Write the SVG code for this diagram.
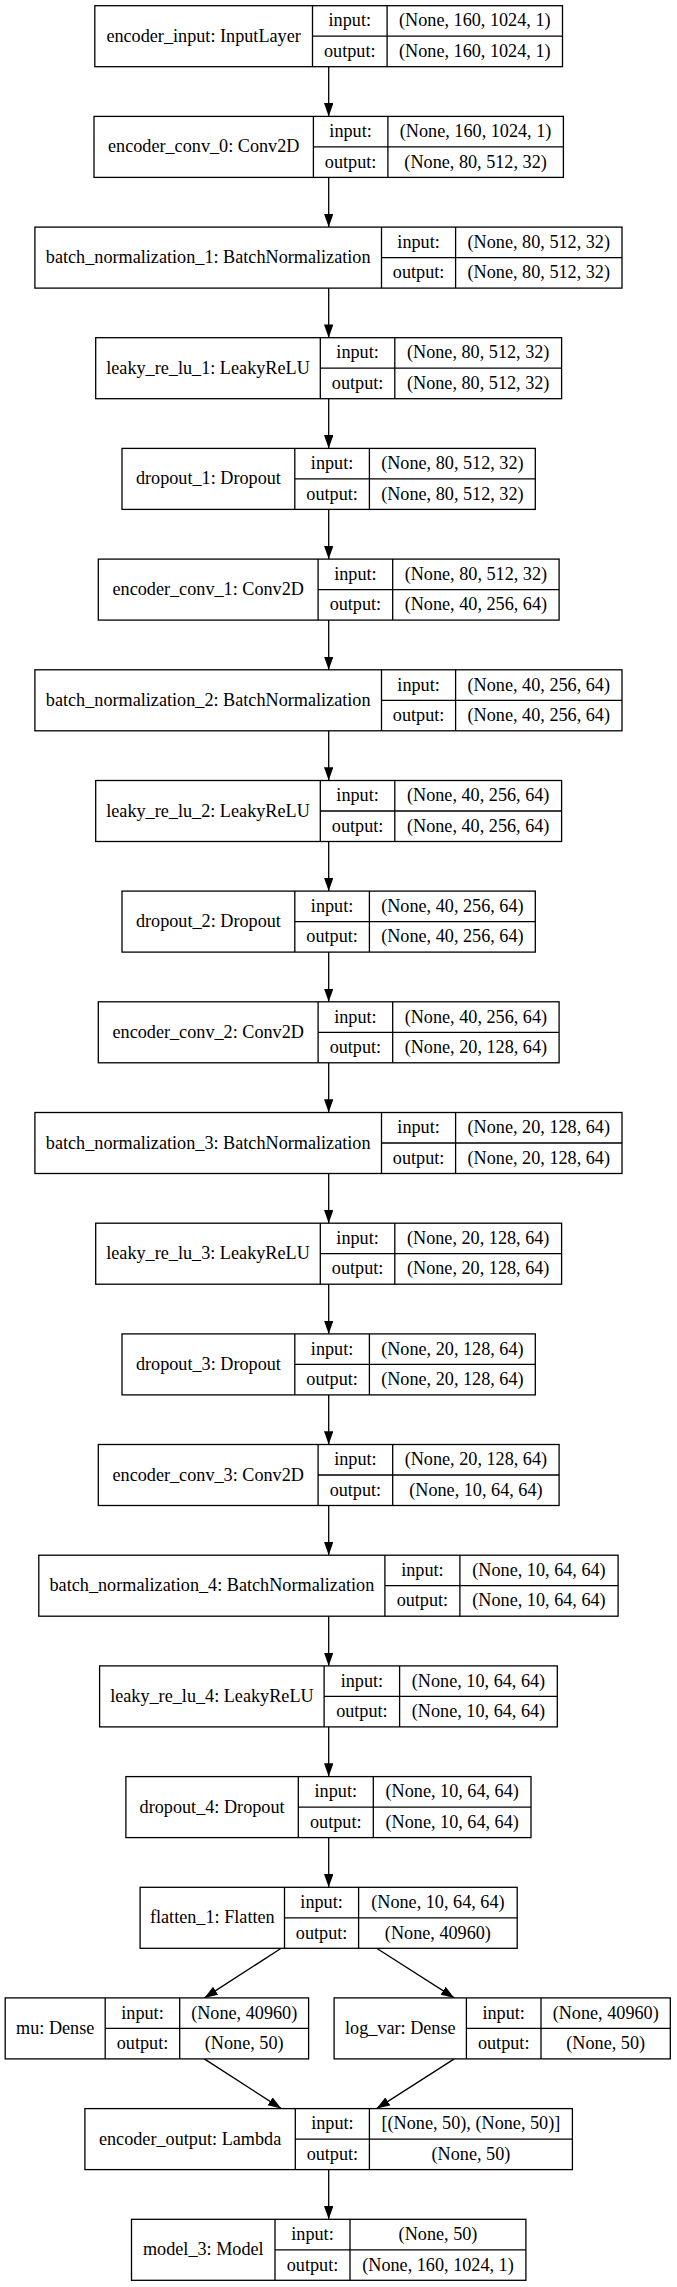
<svg xmlns="http://www.w3.org/2000/svg" width="677" height="2287" viewBox="0 0 677 2287" font-family="'Liberation Serif', 'Times New Roman', serif" font-size="18.2">
<style>
.b{fill:#fff;stroke:#000;stroke-width:1.3}
.l{stroke:#000;stroke-width:1.3;fill:none}
text{font-family:'Liberation Serif','Times New Roman',serif;font-size:18.2px;fill:#000;text-anchor:middle}
.e{stroke:#000;stroke-width:1.3;fill:none;marker-end:url(#ah)}
</style>
<defs>
<marker id="ah" markerUnits="userSpaceOnUse" markerWidth="14" markerHeight="10" refX="13.3" refY="4.7" orient="auto" viewBox="0 0 14 10">
<path d="M0,0 L13.3,4.7 L0,9.4 z" fill="#000"/>
</marker>
</defs>
<rect x="0" y="0" width="677" height="2287" fill="#fff"/>

<g id="edges">
<line class="e" x1="328.7" y1="66.7" x2="328.7" y2="116.4"/>
<line class="e" x1="328.7" y1="177.4" x2="328.7" y2="227.1"/>
<line class="e" x1="328.7" y1="288.1" x2="328.7" y2="337.7"/>
<line class="e" x1="328.7" y1="398.7" x2="328.7" y2="448.4"/>
<line class="e" x1="328.7" y1="509.4" x2="328.7" y2="559.1"/>
<line class="e" x1="328.7" y1="620.1" x2="328.7" y2="669.8"/>
<line class="e" x1="328.7" y1="730.8" x2="328.7" y2="780.5"/>
<line class="e" x1="328.7" y1="841.5" x2="328.7" y2="891.1"/>
<line class="e" x1="328.7" y1="952.1" x2="328.7" y2="1001.8"/>
<line class="e" x1="328.7" y1="1062.8" x2="328.7" y2="1112.5"/>
<line class="e" x1="328.7" y1="1173.5" x2="328.7" y2="1223.2"/>
<line class="e" x1="328.7" y1="1284.2" x2="328.7" y2="1333.9"/>
<line class="e" x1="328.7" y1="1394.9" x2="328.7" y2="1444.5"/>
<line class="e" x1="328.7" y1="1505.5" x2="328.7" y2="1555.2"/>
<line class="e" x1="328.7" y1="1616.2" x2="328.7" y2="1665.9"/>
<line class="e" x1="328.7" y1="1726.9" x2="328.7" y2="1776.6"/>
<line class="e" x1="328.7" y1="1837.6" x2="328.7" y2="1887.3"/>
<line class="e" x1="281.2" y1="1948.3" x2="204.4" y2="1997.9"/>
<line class="e" x1="376.6" y1="1948.3" x2="454.3" y2="1997.9"/>
<line class="e" x1="204.3" y1="2058.9" x2="281.3" y2="2108.6"/>
<line class="e" x1="454.3" y1="2058.9" x2="376.6" y2="2108.6"/>
<line class="e" x1="328.7" y1="2169.6" x2="328.7" y2="2219.3"/>
</g>

<g id="encoder_input" transform="translate(0,5.7)">
<rect class="b" x="94.8" y="0" width="467.7" height="61"/>
<path class="l" d="M312.5,0V61M387.1,0V61M312.5,30.5H562.5"/>
<text x="203.6" y="36">encoder_input: InputLayer</text>
<text x="349.8" y="20.8">input:</text><text x="349.8" y="51.3">output:</text>
<text x="474.8" y="20.8">(None, 160, 1024, 1)</text><text x="474.8" y="51.3">(None, 160, 1024, 1)</text>
</g>

<g id="encoder_conv_0" transform="translate(0,116.4)">
<rect class="b" x="94" y="0" width="469.4" height="61"/>
<path class="l" d="M313.4,0V61M387.9,0V61M313.4,30.5H563.4"/>
<text x="203.7" y="36">encoder_conv_0: Conv2D</text>
<text x="350.6" y="20.8">input:</text><text x="350.6" y="51.3">output:</text>
<text x="475.6" y="20.8">(None, 160, 1024, 1)</text><text x="475.6" y="51.3">(None, 80, 512, 32)</text>
</g>

<g id="batch_normalization_1" transform="translate(0,227.1)">
<rect class="b" x="34.9" y="0" width="587.1" height="61"/>
<path class="l" d="M381.5,0V61M455.6,0V61M381.5,30.5H622"/>
<text x="208.2" y="36">batch_normalization_1: BatchNormalization</text>
<text x="418.6" y="20.8">input:</text><text x="418.6" y="51.3">output:</text>
<text x="538.8" y="20.8">(None, 80, 512, 32)</text><text x="538.8" y="51.3">(None, 80, 512, 32)</text>
</g>

<g id="leaky_re_lu_1" transform="translate(0,337.7)">
<rect class="b" x="95.7" y="0" width="465.9" height="61"/>
<path class="l" d="M320.3,0V61M394.8,0V61M320.3,30.5H561.6"/>
<text x="208" y="36">leaky_re_lu_1: LeakyReLU</text>
<text x="357.6" y="20.8">input:</text><text x="357.6" y="51.3">output:</text>
<text x="478.2" y="20.8">(None, 80, 512, 32)</text><text x="478.2" y="51.3">(None, 80, 512, 32)</text>
</g>

<g id="dropout_1" transform="translate(0,448.4)">
<rect class="b" x="122" y="0" width="413.3" height="61"/>
<path class="l" d="M294.8,0V61M369.4,0V61M294.8,30.5H535.3"/>
<text x="208.4" y="36">dropout_1: Dropout</text>
<text x="332.1" y="20.8">input:</text><text x="332.1" y="51.3">output:</text>
<text x="452.4" y="20.8">(None, 80, 512, 32)</text><text x="452.4" y="51.3">(None, 80, 512, 32)</text>
</g>

<g id="encoder_conv_1" transform="translate(0,559.1)">
<rect class="b" x="98.3" y="0" width="460.8" height="61"/>
<path class="l" d="M318.1,0V61M392.7,0V61M318.1,30.5H559.1"/>
<text x="208.2" y="36">encoder_conv_1: Conv2D</text>
<text x="355.4" y="20.8">input:</text><text x="355.4" y="51.3">output:</text>
<text x="475.9" y="20.8">(None, 80, 512, 32)</text><text x="475.9" y="51.3">(None, 40, 256, 64)</text>
</g>

<g id="batch_normalization_2" transform="translate(0,669.8)">
<rect class="b" x="34.9" y="0" width="587.1" height="61"/>
<path class="l" d="M381.5,0V61M455.6,0V61M381.5,30.5H622"/>
<text x="208.2" y="36">batch_normalization_2: BatchNormalization</text>
<text x="418.6" y="20.8">input:</text><text x="418.6" y="51.3">output:</text>
<text x="538.8" y="20.8">(None, 40, 256, 64)</text><text x="538.8" y="51.3">(None, 40, 256, 64)</text>
</g>

<g id="leaky_re_lu_2" transform="translate(0,780.5)">
<rect class="b" x="95.7" y="0" width="465.9" height="61"/>
<path class="l" d="M320.3,0V61M394.8,0V61M320.3,30.5H561.6"/>
<text x="208" y="36">leaky_re_lu_2: LeakyReLU</text>
<text x="357.6" y="20.8">input:</text><text x="357.6" y="51.3">output:</text>
<text x="478.2" y="20.8">(None, 40, 256, 64)</text><text x="478.2" y="51.3">(None, 40, 256, 64)</text>
</g>

<g id="dropout_2" transform="translate(0,891.1)">
<rect class="b" x="122" y="0" width="413.3" height="61"/>
<path class="l" d="M294.8,0V61M369.4,0V61M294.8,30.5H535.3"/>
<text x="208.4" y="36">dropout_2: Dropout</text>
<text x="332.1" y="20.8">input:</text><text x="332.1" y="51.3">output:</text>
<text x="452.4" y="20.8">(None, 40, 256, 64)</text><text x="452.4" y="51.3">(None, 40, 256, 64)</text>
</g>

<g id="encoder_conv_2" transform="translate(0,1001.8)">
<rect class="b" x="98.3" y="0" width="460.8" height="61"/>
<path class="l" d="M318.1,0V61M392.7,0V61M318.1,30.5H559.1"/>
<text x="208.2" y="36">encoder_conv_2: Conv2D</text>
<text x="355.4" y="20.8">input:</text><text x="355.4" y="51.3">output:</text>
<text x="475.9" y="20.8">(None, 40, 256, 64)</text><text x="475.9" y="51.3">(None, 20, 128, 64)</text>
</g>

<g id="batch_normalization_3" transform="translate(0,1112.5)">
<rect class="b" x="34.9" y="0" width="587.1" height="61"/>
<path class="l" d="M381.5,0V61M455.6,0V61M381.5,30.5H622"/>
<text x="208.2" y="36">batch_normalization_3: BatchNormalization</text>
<text x="418.6" y="20.8">input:</text><text x="418.6" y="51.3">output:</text>
<text x="538.8" y="20.8">(None, 20, 128, 64)</text><text x="538.8" y="51.3">(None, 20, 128, 64)</text>
</g>

<g id="leaky_re_lu_3" transform="translate(0,1223.2)">
<rect class="b" x="95.7" y="0" width="465.9" height="61"/>
<path class="l" d="M320.3,0V61M394.8,0V61M320.3,30.5H561.6"/>
<text x="208" y="36">leaky_re_lu_3: LeakyReLU</text>
<text x="357.6" y="20.8">input:</text><text x="357.6" y="51.3">output:</text>
<text x="478.2" y="20.8">(None, 20, 128, 64)</text><text x="478.2" y="51.3">(None, 20, 128, 64)</text>
</g>

<g id="dropout_3" transform="translate(0,1333.9)">
<rect class="b" x="122" y="0" width="413.3" height="61"/>
<path class="l" d="M294.8,0V61M369.4,0V61M294.8,30.5H535.3"/>
<text x="208.4" y="36">dropout_3: Dropout</text>
<text x="332.1" y="20.8">input:</text><text x="332.1" y="51.3">output:</text>
<text x="452.4" y="20.8">(None, 20, 128, 64)</text><text x="452.4" y="51.3">(None, 20, 128, 64)</text>
</g>

<g id="encoder_conv_3" transform="translate(0,1444.5)">
<rect class="b" x="98.3" y="0" width="460.8" height="61"/>
<path class="l" d="M318.1,0V61M392.7,0V61M318.1,30.5H559.1"/>
<text x="208.2" y="36">encoder_conv_3: Conv2D</text>
<text x="355.4" y="20.8">input:</text><text x="355.4" y="51.3">output:</text>
<text x="475.9" y="20.8">(None, 20, 128, 64)</text><text x="475.9" y="51.3">(None, 10, 64, 64)</text>
</g>

<g id="batch_normalization_4" transform="translate(0,1555.2)">
<rect class="b" x="38.8" y="0" width="579.3" height="61"/>
<path class="l" d="M384.9,0V61M459.9,0V61M384.9,30.5H618.1"/>
<text x="211.9" y="36">batch_normalization_4: BatchNormalization</text>
<text x="422.4" y="20.8">input:</text><text x="422.4" y="51.3">output:</text>
<text x="539" y="20.8">(None, 10, 64, 64)</text><text x="539" y="51.3">(None, 10, 64, 64)</text>
</g>

<g id="leaky_re_lu_4" transform="translate(0,1665.9)">
<rect class="b" x="99.6" y="0" width="457.7" height="61"/>
<path class="l" d="M324.1,0V61M399.6,0V61M324.1,30.5H557.3"/>
<text x="211.9" y="36">leaky_re_lu_4: LeakyReLU</text>
<text x="361.9" y="20.8">input:</text><text x="361.9" y="51.3">output:</text>
<text x="478.5" y="20.8">(None, 10, 64, 64)</text><text x="478.5" y="51.3">(None, 10, 64, 64)</text>
</g>

<g id="dropout_4" transform="translate(0,1776.6)">
<rect class="b" x="125.9" y="0" width="405.1" height="61"/>
<path class="l" d="M298.3,0V61M373.3,0V61M298.3,30.5H531"/>
<text x="212.1" y="36">dropout_4: Dropout</text>
<text x="335.8" y="20.8">input:</text><text x="335.8" y="51.3">output:</text>
<text x="452.2" y="20.8">(None, 10, 64, 64)</text><text x="452.2" y="51.3">(None, 10, 64, 64)</text>
</g>

<g id="flatten_1" transform="translate(0,1887.3)">
<rect class="b" x="140.1" y="0" width="377.1" height="61"/>
<path class="l" d="M284.5,0V61M358.6,0V61M284.5,30.5H517.2"/>
<text x="212.3" y="36">flatten_1: Flatten</text>
<text x="321.6" y="20.8">input:</text><text x="321.6" y="51.3">output:</text>
<text x="437.9" y="20.8">(None, 10, 64, 64)</text><text x="437.9" y="51.3">(None, 40960)</text>
</g>

<g id="mu" transform="translate(0,1997.9)">
<rect class="b" x="5.2" y="0" width="303.4" height="61"/>
<path class="l" d="M105.2,0V61M179.7,0V61M105.2,30.5H308.6"/>
<text x="55.2" y="36">mu: Dense</text>
<text x="142.5" y="20.8">input:</text><text x="142.5" y="51.3">output:</text>
<text x="244.2" y="20.8">(None, 40960)</text><text x="244.2" y="51.3">(None, 50)</text>
</g>

<g id="log_var" transform="translate(0,1997.9)">
<rect class="b" x="334.1" y="0" width="336.2" height="61"/>
<path class="l" d="M466.4,0V61M541,0V61M466.4,30.5H670.3"/>
<text x="400.3" y="36">log_var: Dense</text>
<text x="503.7" y="20.8">input:</text><text x="503.7" y="51.3">output:</text>
<text x="605.7" y="20.8">(None, 40960)</text><text x="605.7" y="51.3">(None, 50)</text>
</g>

<g id="encoder_output" transform="translate(0,2108.6)">
<rect class="b" x="84.9" y="0" width="487.5" height="61"/>
<path class="l" d="M295.3,0V61M369.4,0V61M295.3,30.5H572.4"/>
<text x="190.1" y="36">encoder_output: Lambda</text>
<text x="332.4" y="20.8">input:</text><text x="332.4" y="51.3">output:</text>
<text x="470.9" y="20.8">[(None, 50), (None, 50)]</text><text x="470.9" y="51.3">(None, 50)</text>
</g>

<g id="model_3" transform="translate(0,2219.3)">
<rect class="b" x="131.5" y="0" width="394.4" height="61"/>
<path class="l" d="M275,0V61M350,0V61M275,30.5H525.9"/>
<text x="203.3" y="36">model_3: Model</text>
<text x="312.5" y="20.8">input:</text><text x="312.5" y="51.3">output:</text>
<text x="438" y="20.8">(None, 50)</text><text x="438" y="51.3">(None, 160, 1024, 1)</text>
</g>
</svg>
